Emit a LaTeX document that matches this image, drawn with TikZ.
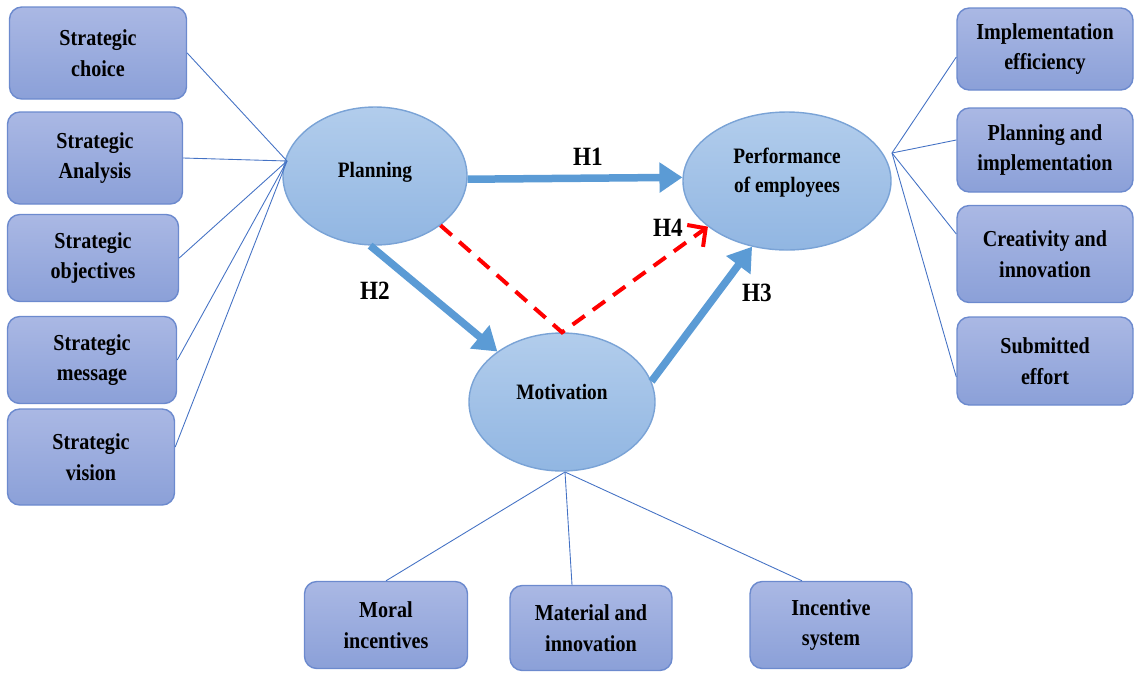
\documentclass[tikz,border=0pt]{standalone}
\definecolor{boxtop}{RGB}{170, 184, 228}
\definecolor{boxbot}{RGB}{139, 160, 216}
\definecolor{boxline}{RGB}{108, 138, 206}
\definecolor{elltop}{RGB}{178, 205, 236}
\definecolor{ellbot}{RGB}{145, 182, 226}
\definecolor{ellline}{RGB}{122, 163, 214}
\definecolor{arrowblue}{RGB}{91, 155, 213}
\definecolor{linkblue}{RGB}{68, 114, 196}
\definecolor{hypred}{RGB}{255, 0, 0}
\usepackage{fontspec}
\setmainfont{Liberation Serif}[FakeStretch=0.88]
\usepackage{tikz}
\usetikzlibrary{shapes.geometric, arrows.meta}

\begin{document}
\begin{tikzpicture}[x=0.2mm, y=-0.2mm,
  factor/.style={draw=boxline, line width=0.8pt, rounded corners=7pt,
    top color=boxtop, bottom color=boxbot, align=center, inner sep=0pt,
    font=\fontsize{13}{17.5}\selectfont\bfseries},
  construct/.style={ellipse, draw=ellline, line width=0.8pt,
    top color=elltop, bottom color=ellbot, align=center, inner sep=0pt,
    minimum height=27.6mm, font=\fontsize{12.5}{16.5}\selectfont\bfseries},
  link/.style={linkblue, line width=0.5pt},
  hyp/.style={arrowblue, line width=1.5mm, -{Triangle[length=4.6mm, width=5.8mm]}},
  hypdash/.style={hypred, line width=0.8mm, dash pattern=on 3mm off 2mm,
    -{Straight Barb[length=2.6mm, width=5.4mm]}},
  hlabel/.style={font=\fontsize{15}{18}\selectfont\bfseries}]
  \useasboundingbox (0,0) rectangle (1134,673);

  % Constructs
  \node[construct, minimum width=36.8mm] (plan) at (375,176) {Planning\\[-10pt]};
  \node[construct, minimum width=41.6mm] (perf) at (787,181) {Performance\\of employees\\[-4pt]};
  \node[construct, minimum width=37.2mm] (motiv) at (562,402) {Motivation\\[-5.5pt]};

  % Planning dimensions
  \node[factor, minimum width=35.4mm, minimum height=18.4mm] (choice) at (98,53) {Strategic\\choice};
  \node[factor, minimum width=35mm, minimum height=18.4mm] (analysis) at (95,158) {Strategic\\Analysis};
  \node[factor, minimum width=34.2mm, minimum height=17.4mm] (objectives) at (93,258) {Strategic\\objectives};
  \node[factor, minimum width=33.8mm, minimum height=17.4mm] (message) at (92,360) {Strategic\\message};
  \node[factor, minimum width=33.4mm, minimum height=19.2mm] (vision) at (91,457) {Strategic\\vision};

  % Performance dimensions
  \node[factor, minimum width=35.2mm, minimum height=16.4mm] (efficiency) at (1045,49) {Implementation\\efficiency};
  \node[factor, minimum width=35.2mm, minimum height=16.8mm] (planimpl) at (1045,150) {Planning and\\implementation};
  \node[factor, minimum width=35.2mm, minimum height=19.4mm] (creativity) at (1045,254) {Creativity and\\innovation};
  \node[factor, minimum width=35.2mm, minimum height=17.6mm] (effort) at (1045,361) {Submitted\\effort};

  % Motivation dimensions
  \node[factor, minimum width=32.6mm, minimum height=17.4mm] (moral) at (386,625) {Moral\\incentives};
  \node[factor, minimum width=32.4mm, minimum height=17mm] (material) at (591,628) {Material and\\innovation};
  \node[factor, minimum width=32.4mm, minimum height=17.4mm] (incentive) at (831,625) {Incentive\\system};

  % Fan lines
  \coordinate (pfan) at (287,161);
  \coordinate (efan) at (892,153);
  \coordinate (mfan) at (565,472);
  \draw[link] (choice.east) -- (pfan);
  \draw[link] (analysis.east) -- (pfan);
  \draw[link] (objectives.east) -- (pfan);
  \draw[link] (message.east) -- (pfan);
  \draw[link] ([yshift=2mm]vision.east) -- (pfan);
  \draw[link] (efan) -- ([yshift=-1.6mm]efficiency.west);
  \draw[link] (efan) -- ([yshift=2mm]planimpl.west);
  \draw[link] (efan) -- ([yshift=4mm]creativity.west);
  \draw[link] (efan) -- ([yshift=-3.2mm]effort.west);
  \draw[link] (mfan) -- (moral.north);
  \draw[link] (mfan) -- ([xshift=-3.8mm]material.north);
  \draw[link] (mfan) -- ([xshift=-5.8mm]incentive.north);

  % Hypotheses
  \draw[hyp] (plan.-2) -- (perf.178);
  \draw[hyp] (plan.-94) -- (motiv.142.4);
  \draw[hyp] (motiv.13) -- (perf.-118);
  \draw[hypdash] (plan.-37.6) -- (motiv.north) -- (perf.-150);
  \node[hlabel] (h1) at (588,157) {H1};
  \node[hlabel] (h2) at (375,291) {H2};
  \node[hlabel] (h3) at (757,293) {H3};
  \node[hlabel] (h4) at (668,228) {H4};
\end{tikzpicture}
\end{document}
